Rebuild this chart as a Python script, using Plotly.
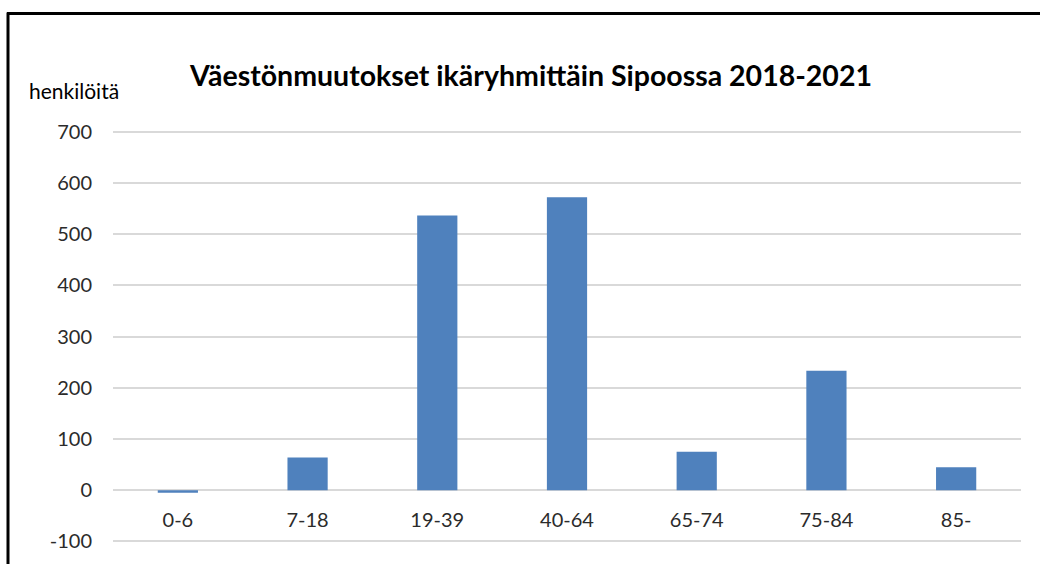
import plotly.graph_objects as go

categories = ["0-6", "7-18", "19-39", "40-64", "65-74", "75-84", "85-"]
values = [-5, 64, 536, 572, 75, 233, 45]
y_ticks = [-100, 0, 100, 200, 300, 400, 500, 600, 700]

title_text = "Väestönmuutokset ikäryhmittäin Sipoossa 2018-2021"
y_unit = "henkilöitä"

W, H = 1040, 564
ml, mr, mt, mb = 113, 19, 129, 18
ymin, ymax = -105, 705

fig = go.Figure()
fig.add_trace(go.Bar(
    x=categories, y=values,
    marker=dict(color="#4F81BD", line=dict(width=0)),
    width=0.31,
))

font = "Lato, 'Open Sans', sans-serif"
tick_color = "#2b2b2b"
fig.update_layout(
    width=W, height=H,
    margin=dict(l=ml, r=mr, t=mt, b=mb),
    paper_bgcolor="white", plot_bgcolor="white",
    showlegend=False,
    font=dict(family=font, size=20, color=tick_color),
    xaxis=dict(
        anchor="free", position=(0 - ymin) / (ymax - ymin),
        showgrid=False, showline=False, zeroline=False,
        ticks="", ticklabelstandoff=16,
        tickfont=dict(size=20, color=tick_color),
    ),
    yaxis=dict(
        range=[ymin, ymax], tickvals=y_ticks,
        ticktext=[str(v) for v in y_ticks],
        showgrid=True, gridcolor="#D9D9D9", gridwidth=1.5,
        zeroline=True, zerolinecolor="#D9D9D9", zerolinewidth=1.5,
        showline=False, ticks="", ticklabelstandoff=20,
        tickfont=dict(size=20, color=tick_color),
    ),
)

pw, ph = W - ml - mr, H - mt - mb
def px(x): return (x - ml) / pw
def py(y): return 1 - (y - mt) / ph

fig.add_annotation(
    text="<b>" + title_text + "</b>", xref="paper", yref="paper",
    x=px(530), y=py(75),
    xanchor="center", yanchor="middle", showarrow=False,
    font=dict(family=font, size=28.5, color="#000000"),
)
fig.add_annotation(
    text=y_unit, xref="paper", yref="paper",
    x=px(27), y=py(90),
    xanchor="left", yanchor="middle", showarrow=False,
    font=dict(family=font, size=21, color="#000000"),
)

# chart frame (left and top edges visible)
fig.add_shape(type="line", xref="paper", yref="paper",
              x0=px(7), x1=px(1045), y0=py(13), y1=py(13),
              line=dict(color="black", width=3))
fig.add_shape(type="line", xref="paper", yref="paper",
              x0=px(8), x1=px(8), y0=py(12), y1=py(570),
              line=dict(color="black", width=3))

fig.write_html(
    "out.html",
    config={"displayModeBar": False},
    post_script="document.body.style.margin='0';document.body.style.overflow='hidden';",
)
